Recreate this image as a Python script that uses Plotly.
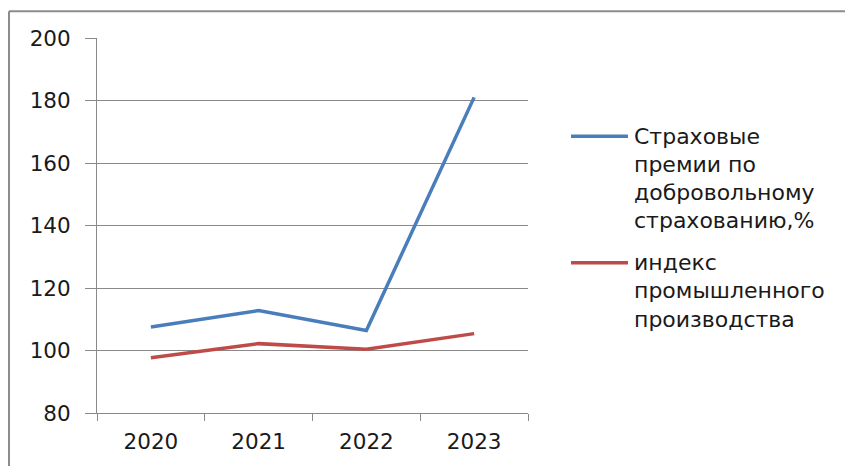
import plotly.graph_objects as go

years = ["2020", "2021", "2022", "2023"]
premiums = [107.5, 112.8, 106.4, 181.0]
industry = [97.7, 102.2, 100.4, 105.4]
premiums_name = ["Страховые", "премии по", "добровольному", "страхованию,%"]
industry_name = ["индекс", "промышленного", "производства"]
y_ticks = [80, 100, 120, 140, 160, 180, 200]

BLUE = "#4A7EBB"
RED = "#BE4B48"
GRID = "#898989"
FONT = "DejaVu Sans"
TXT = "#1a1a1a"

# page has an 8px body margin, so the figure is drawn from (8, 8)
W, H = 845, 458
L, R, T, B = 89, 325, 30, 51
PW, PH = W - L - R, H - T - B

def px(x):
    return (x - L) / PW

def py(y):
    return (H - B - y) / PH

fig = go.Figure()
fig.add_trace(go.Scatter(x=years, y=premiums, mode="lines",
                         line=dict(color=BLUE, width=3.5),
                         name=" ".join(premiums_name), showlegend=False))
fig.add_trace(go.Scatter(x=years, y=industry, mode="lines",
                         line=dict(color=RED, width=3.5),
                         name=" ".join(industry_name), showlegend=False))

shapes = [
    dict(type="line", xref="paper", yref="paper", x0=px(1), x1=px(W + 10), y0=py(3), y1=py(3),
         line=dict(color="#8c8c8c", width=2)),
    dict(type="line", xref="paper", yref="paper", x0=px(1), x1=px(1), y0=py(3), y1=py(H + 10),
         line=dict(color="#8c8c8c", width=2)),
]
annotations = []
spacing = 28.3
for color, lines, y0 in [(BLUE, premiums_name, 128.7), (RED, industry_name, 256.0)]:
    shapes.append(dict(type="line", xref="paper", yref="paper", x0=px(563), x1=px(620),
                       y0=py(y0), y1=py(y0), line=dict(color=color, width=3.5)))
    for i, t in enumerate(lines):
        annotations.append(dict(xref="paper", yref="paper", x=px(624), y=py(y0 + i * spacing),
                                xanchor="left", yanchor="middle", showarrow=False, text=t,
                                font=dict(family=FONT, size=22, color=TXT)))

fig.update_layout(
    width=W, height=H,
    margin=dict(l=L, r=R, t=T, b=B),
    paper_bgcolor="white", plot_bgcolor="white",
    font=dict(family=FONT, size=21.5, color=TXT),
    shapes=shapes, annotations=annotations,
    showlegend=False,
)
fig.update_xaxes(type="category", range=[-0.5, 3.5], tickson="boundaries",
                 ticks="outside", ticklen=7, tickcolor=GRID, tickwidth=1,
                 ticklabelstandoff=9,
                 showline=True, linecolor=GRID, linewidth=1, showgrid=False,
                 tickfont=dict(family=FONT, size=21.5, color=TXT))
fig.update_yaxes(range=[80, 200], tickvals=y_ticks, ticks="outside", ticklen=11,
                 tickcolor=GRID, tickwidth=1, ticklabelstandoff=10,
                 showline=True, linecolor=GRID, linewidth=1,
                 showgrid=True, gridcolor=GRID, gridwidth=1, zeroline=False,
                 tickfont=dict(family=FONT, size=21.5, color=TXT))

fig.write_html("out.html")
